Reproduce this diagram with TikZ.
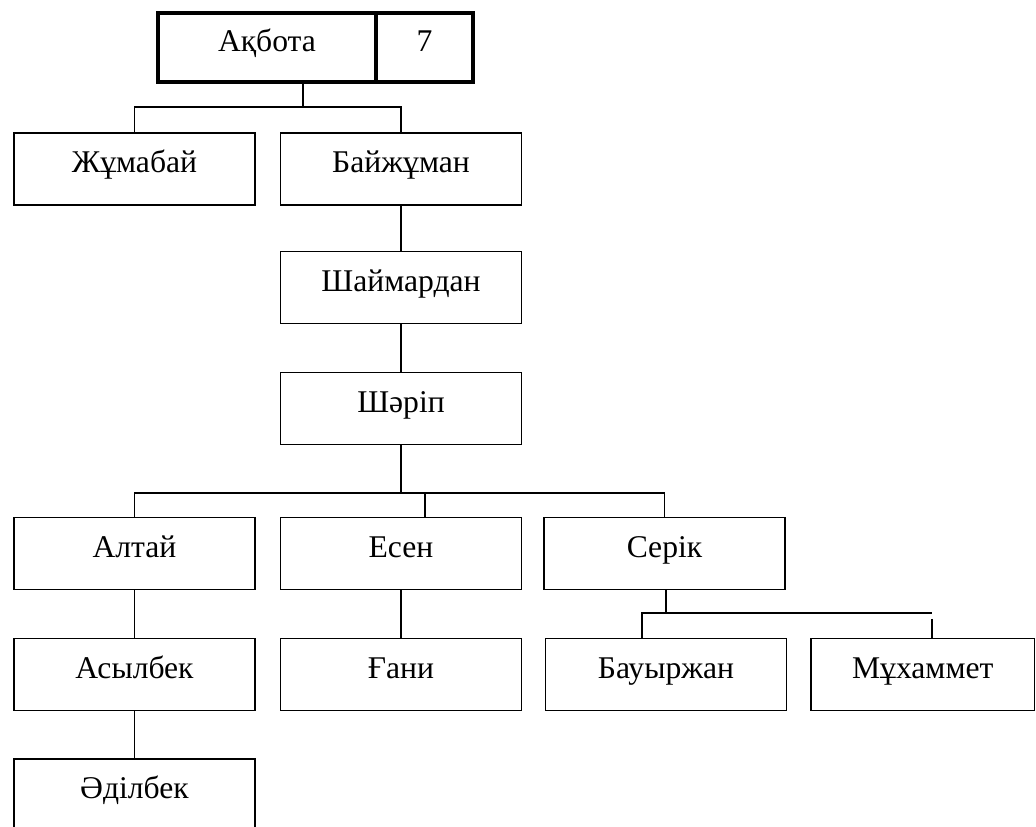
\documentclass[tikz,border=0pt]{standalone}
\usepackage{fontspec}
\setmainfont{Liberation Serif}

\begin{document}
\begin{tikzpicture}[
		x=0.02cm, y=-0.02cm,
		font=\fontsize{18}{22}\selectfont,
		link/.style={line width=1pt},
		block/.style={draw, line width=1pt, minimum height=1.44cm, minimum width=4.82cm, inner sep=0pt, text height=0.65em, text depth=0.25em, align=center},
		headblock/.style={draw, line width=2.2pt, minimum height=1.38cm, inner sep=0pt, text height=0.65em, text depth=0.25em, align=center},
	]
		\useasboundingbox (0,0) rectangle (1036,827);
		\clip (0,0) rectangle (1036,827);

		\node at (267,47.5) (akbota) [headblock, minimum width=4.36cm] {Ақбота};
		\node at (424.5,47.5) (seven) [headblock, minimum width=1.94cm] {7};

		\node at (134.5,169) (zhumabai) [block] {Жұмабай};
		\node at (401,169) (baizhuman) [block] {Байжұман};
		\node at (401,287.5) (shaimardan) [block] {Шаймардан};
		\node at (401,408.5) (sharip) [block] {Шәріп};

		\node at (134.5,553.5) (altai) [block] {Алтай};
		\node at (401,553.5) (esen) [block] {Есен};
		\node at (664.5,553.5) (serik) [block] {Серік};

		\node at (134.5,674.5) (asylbek) [block] {Асылбек};
		\node at (401,674.5) (gani) [block] {Ғани};
		\node at (666,674.5) (bauyrzhan) [block] {Бауыржан};
		\node at (922.75,674.5) (mukhammet) [block, minimum width=4.47cm] {Мұхаммет};
		\node at (134.5,795) (adilbek) [block] {Әділбек};

		\coordinate (bar1) at (303,107);
		\coordinate (bar2) at (401,493);
		\coordinate (tee2) at (425,493);
		\coordinate (bar3) at (666,613);
		\coordinate (bar3l) at (642,613);
		\coordinate (bar3r) at (932,613);
		\coordinate (tick3) at (932,619);

		\draw[link] (akbota.south -| bar1) -- (bar1);
		\draw[link] (zhumabai.north) |- (bar1) -| (baizhuman.north);
		\draw[link] (baizhuman) -- (shaimardan);
		\draw[link] (shaimardan) -- (sharip);

		\draw[link] (sharip.south) -- (bar2);
		\draw[link] (altai.north) |- (bar2) -| (serik.north);
		\draw[link] (tee2) -- (tee2 |- esen.north);

		\draw[link] (altai) -- (asylbek);
		\draw[link] (asylbek) -- (adilbek);
		\draw[link] (esen) -- (gani);

		\draw[link] (serik.south -| bar3) -- (bar3);
		\draw[link] (bar3l |- bauyrzhan.north) -- (bar3l) -- (bar3r);
		\draw[link] (tick3) -- (tick3 |- mukhammet.north);
	\end{tikzpicture}
\end{document}
